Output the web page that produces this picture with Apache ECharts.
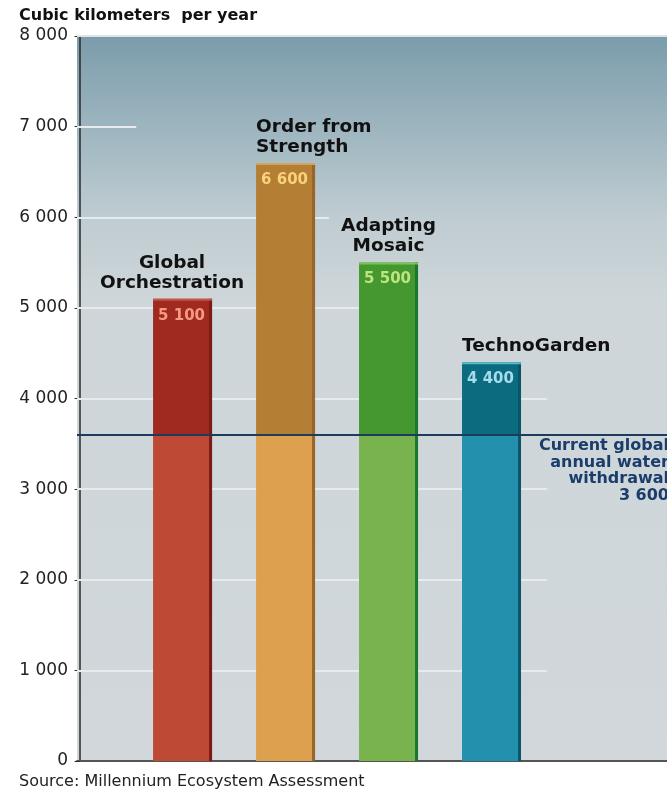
<!DOCTYPE html>
<html>
<head>
<meta charset="utf-8">
<script src="https://cdn.jsdelivr.net/npm/echarts@6/dist/echarts.min.js"></script>
<style>
  html, body { margin: 0; padding: 0; background: #ffffff; }
  #chart { width: 667px; height: 791px; }
</style>
</head>
<body>
<div id="chart"></div>
<script>
// Scenario names and projected water withdrawals (km³ per year)
const categories = ['Global\nOrchestration', 'Order from\nStrength', 'Adapting\nMosaic', 'TechnoGarden'];
const values = [5100, 6600, 5500, 4400];
// Current global annual water withdrawal
const withdrawal = 3600;
const withdrawalLabel = ['Current global', 'annual water', 'withdrawal'];
// Y axis range
const yMin = 0;
const yMax = 8000;
const yStep = 1000;

const FONT = '"DejaVu Sans", "Liberation Sans", sans-serif';

function fmt(n) {
  return String(n).replace(/\B(?=(\d{3})+(?!\d))/g, ' ');
}

// Bar palette: [above current withdrawal, below, right edge, top highlight, value text]
const palette = [
  ['#a02a20', '#be4a36', '#7a1b16', '#c0584a', '#f59a80'],
  ['#b57e35', '#dca04e', '#98652a', '#d2a560', '#f9d27c'],
  ['#45982f', '#78b34e', '#18782b', '#7cc45a', '#bde47e'],
  ['#0b6b7f', '#2391ae', '#0a5668', '#5cb8cc', '#a8dcec']
];
// Name placement above each bar
const nameAnchor = [
  { align: 'center', dx: -10.5 },
  { align: 'left', dx: 0 },
  { align: 'center', dx: 0 },
  { align: 'left', dx: 0 }
];

const BAR_W = 59;

function renderBar(params, api) {
  const i = params.dataIndex;
  const x = api.value(0);
  const v = api.value(1);
  const top = api.coord([x, v]);
  const mid = api.coord([x, Math.min(v, withdrawal)]);
  const base = api.coord([x, yMin]);
  const left = top[0] - BAR_W / 2;
  const c = palette[i];
  const anchor = nameAnchor[i];
  const nameX = anchor.align === 'left' ? left + anchor.dx : top[0] + anchor.dx;
  return {
    type: 'group',
    children: [
      { type: 'rect', shape: { x: left, y: mid[1], width: BAR_W, height: base[1] - mid[1] }, style: { fill: c[1] } },
      { type: 'rect', shape: { x: left, y: top[1], width: BAR_W, height: mid[1] - top[1] }, style: { fill: c[0] } },
      { type: 'rect', shape: { x: left + BAR_W - 3, y: top[1], width: 3, height: base[1] - top[1] }, style: { fill: c[2] } },
      { type: 'rect', shape: { x: left, y: top[1], width: BAR_W, height: 2 }, style: { fill: c[3] } },
      {
        type: 'text',
        style: {
          text: fmt(v), x: left + 5, y: top[1] + 17,
          align: 'left', verticalAlign: 'middle',
          font: 'bold 15px ' + FONT, fill: c[4]
        }
      },
      {
        type: 'text',
        style: {
          text: categories[i], x: nameX, y: top[1] - 6,
          align: anchor.align, verticalAlign: 'bottom',
          font: 'bold 18.5px ' + FONT, fill: '#111111', lineHeight: 20
        }
      }
    ]
  };
}

// Horizontal value guides: [value, end position on x axis]
const guideEnds = [[1000, 4.54], [2000, 4.54], [3000, 4.54], [4000, 4.54], [5000, 2.71], [6000, 2.42], [7000, 0.55]];
const X_MIN = -0.025;
const X_MAX = 5.704;

const chart = echarts.init(document.getElementById('chart'));
chart.setOption({
  animation: false,
  backgroundColor: '#ffffff',
  grid: {
    left: 77, right: 0, top: 36, bottom: 30,
    show: true, borderWidth: 0,
    backgroundColor: {
      type: 'linear', x: 0, y: 0, x2: 0, y2: 1,
      colorStops: [
        { offset: 0, color: '#7b9cab' },
        { offset: 0.125, color: '#9db5bf' },
        { offset: 0.25, color: '#bfccd1' },
        { offset: 0.36, color: '#ced6d9' },
        { offset: 1, color: '#d1d7da' }
      ]
    }
  },
  title: [
    {
      text: 'Cubic kilometers  per year', left: 14, top: 3,
      textStyle: { fontFamily: FONT, fontWeight: 'bold', fontSize: 16, color: '#111111' }
    },
    {
      text: 'Source: Millennium Ecosystem Assessment', left: 14, top: 769,
      textStyle: { fontFamily: FONT, fontWeight: 'normal', fontSize: 16, color: '#222222' }
    }
  ],
  xAxis: {
    type: 'value', min: X_MIN, max: X_MAX,
    axisLine: { show: true, onZero: false, lineStyle: { color: '#555555', width: 2 } },
    axisTick: { show: false }, axisLabel: { show: false }, splitLine: { show: false }
  },
  yAxis: {
    type: 'value', min: yMin, max: yMax, interval: yStep,
    axisLine: { show: true, lineStyle: { color: '#2a2a2a', width: 1.5 } },
    axisTick: { show: true, length: 5, lineStyle: { color: '#2a2a2a' } },
    axisLabel: {
      margin: 9, fontFamily: FONT, fontSize: 17, color: '#222222',
      formatter: v => fmt(v)
    },
    splitLine: { show: false }
  },
  series: [
    {
      // light guide lines behind the bars
      type: 'line', data: [], z: 1, silent: true,
      markLine: {
        z: 1,
        symbol: 'none', silent: true, animation: false,
        label: { show: false },
        lineStyle: { color: '#e6ecee', width: 2, type: 'solid' },
        data: guideEnds.map(g => [{ coord: [X_MIN, g[0]] }, { coord: [g[1], g[0]] }])
          .concat([[{ coord: [X_MIN, yMax], lineStyle: { color: '#dfe5e7', width: 2 } }, { coord: [X_MAX, yMax] }]])
      }
    },
    {
      type: 'custom', z: 3,
      renderItem: renderBar,
      data: values.map((v, i) => [i + 1, v]),
      clip: false
    },
    {
      // current withdrawal reference line
      type: 'line', data: [], z: 6, silent: true,
      markLine: {
        z: 6,
        symbol: 'none', silent: true, animation: false,
        lineStyle: { color: '#1d3b5c', width: 2, type: 'solid' },
        label: {
          show: true, position: 'insideEndBottom', distance: [-2, 3],
          formatter: withdrawalLabel.join('\n') + '\n' + fmt(withdrawal),
          fontFamily: FONT, fontWeight: 'bold', fontSize: 16, lineHeight: 16.5,
          color: '#1a3d6b', align: 'right'
        },
        data: [{ yAxis: withdrawal }]
      }
    }
  ]
});
</script>
</body>
</html>
